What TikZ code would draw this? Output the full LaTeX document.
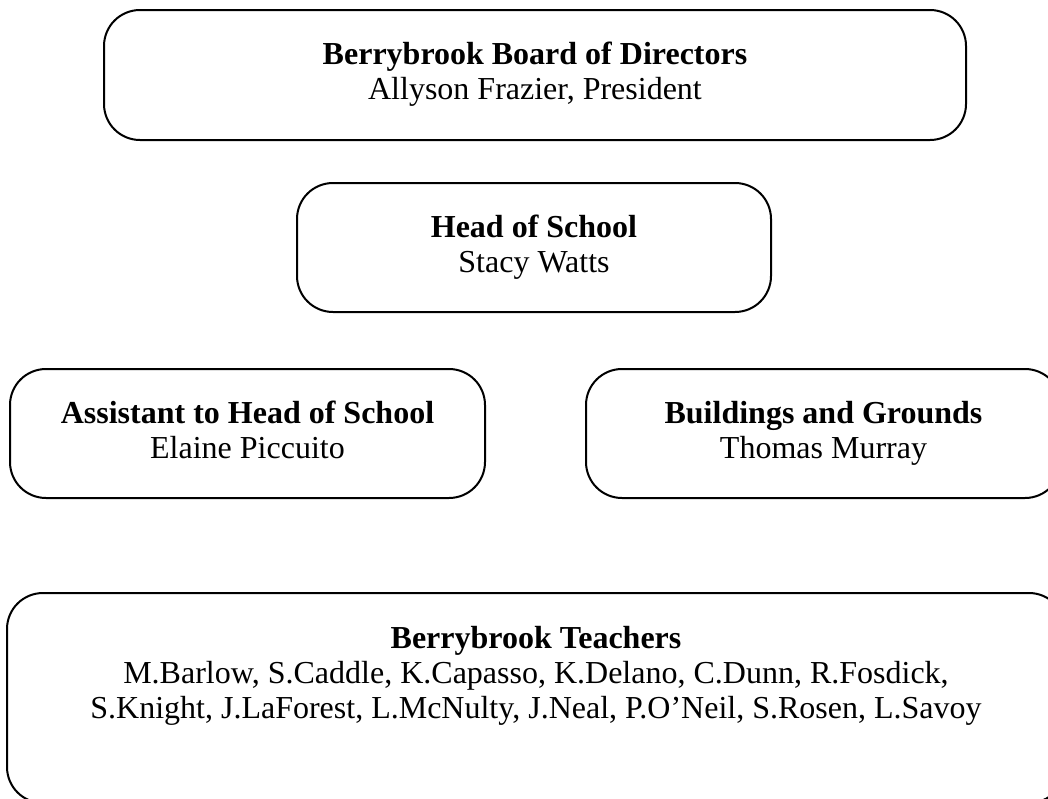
\documentclass[tikz,border=0pt]{standalone}
\usepackage{fontspec}
\setmainfont{Liberation Serif}
\usetikzlibrary{positioning}

\begin{document}
\begin{tikzpicture}[x=1pt,y=-1pt,
		unit/.style={draw, line width=2pt, rounded corners=36pt, align=center, inner sep=0pt,
			text depth=8pt, font=\fontsize{32}{35}\selectfont}]
	\useasboundingbox (0,0) rectangle (1048,798);
	\node[unit, minimum width=862pt, minimum height=130pt] (board) at (535,75)
		{\textbf{Berrybrook Board of Directors}\\Allyson Frazier, President};
	\node[unit, minimum width=474pt, minimum height=129pt] (head) at (534,247.5)
		{\textbf{Head of School}\\Stacy Watts};
	\node[unit, minimum width=475pt, minimum height=129pt] (assistant) at (247.5,433.5)
		{\textbf{Assistant to Head of School}\\Elaine Piccuito};
	\node[unit, minimum width=475pt, minimum height=129pt] (grounds) at (823.5,433.5)
		{\textbf{Buildings and Grounds}\\Thomas Murray};
	\node[unit, minimum width=1058pt, minimum height=210pt, text depth=52pt] (teachers) at (536,698)
		{\textbf{Berrybrook Teachers}\\M.Barlow, S.Caddle, K.Capasso, K.Delano, C.Dunn, R.Fosdick,\\S.Knight, J.LaForest, L.McNulty, J.Neal, P.O’Neil, S.Rosen, L.Savoy};
\end{tikzpicture}
\end{document}
